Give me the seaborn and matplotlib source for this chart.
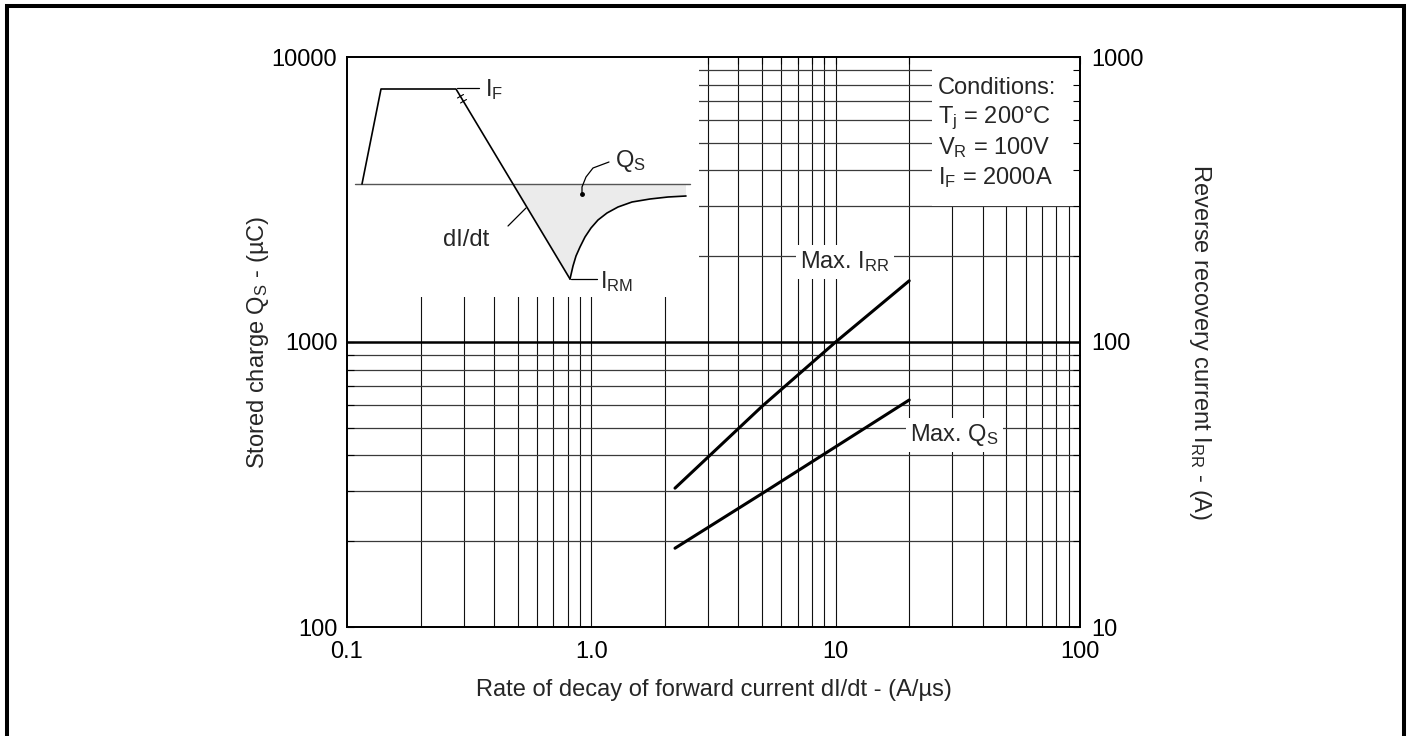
import numpy as np
import pandas as pd
import matplotlib
matplotlib.use("Agg")
import matplotlib.pyplot as plt
from matplotlib.patches import Rectangle, Polygon
import seaborn as sns

# curves
di_dt = [2.2, 5.0, 10.0, 20.0]          # A/us
max_qs = [189, 294, 429, 626]           # uC, left axis
max_irr = [30.7, 59.5, 100.0, 164.0]    # A, right axis

x_ticks = [0.1, 1.0, 10, 100]
x_tick_labels = ["0.1", "1.0", "10", "100"]
qs_ticks = [100, 1000, 10000]
irr_ticks = [10, 100, 1000]

conditions = ["Conditions:", r"T$_j$ = 200°C", r"V$_R$ = 100V", r"I$_F$ = 2000A"]

# recovery waveform sketch (inset drawn in pixel units of the sheet)
sk_base_x = [355, 690]
sk_base_y = [184, 184]
sk_wave_x = [362, 381, 456, 570]
sk_wave_y = [184, 89, 89, 279]
sk_rec_x = [570, 573, 576, 580, 585, 591, 598, 607, 618, 632, 650, 668, 686]
sk_rec_y = [279, 266, 256, 247, 237, 228, 220, 213, 207, 202, 199, 197, 196]
sk_fill_x = [512, 570] + sk_rec_x + [686]
sk_fill_y = [184, 279] + sk_rec_y + [184]

W, H = 1419, 736
DPI = 100
FS = 17

sns.set_theme(style="white")
plt.rcParams["font.family"] = ["Liberation Sans", "DejaVu Sans"]
plt.rcParams["mathtext.default"] = "regular"
plt.rcParams["font.size"] = FS

fig = plt.figure(figsize=(W / DPI, H / DPI), dpi=DPI)
ax = fig.add_axes([347 / W, 1 - 627 / H, 733 / W, 570 / H])
ax.set_xscale("log")
ax.set_yscale("log")
ax.set_xlim(0.1, 100)
ax.set_ylim(100, 10000)

# grid on every decade step
x_grid = [m * 10.0 ** e for e in (-1, 0, 1) for m in range(1, 10)][1:]
y_grid = [m * 10.0 ** e for e in (2, 3) for m in range(1, 10)][1:]
ax.vlines(x_grid, 100, 10000, color="#111111", lw=0.8, zorder=0.3)
for v in y_grid:
    ax.axhline(v, color="black" if v == 1000 else "#3a3a3a",
               lw=1.8 if v == 1000 else 0.9, zorder=0.3)

# white areas behind the sketch and the conditions box
ax.add_patch(Rectangle((0.1, 1440), 2.75 - 0.1, 10000 - 1440, facecolor="white",
                       edgecolor="none", zorder=0.6))
ax.add_patch(Rectangle((24.7, 3000), 100 - 24.7, 10000 - 3000, facecolor="white",
                       edgecolor="none", zorder=0.6))

df = pd.DataFrame({"didt": di_dt, "qs": max_qs, "irr": max_irr})
sns.lineplot(data=df, x="didt", y="qs", ax=ax, color="black", lw=2.2, zorder=3)

ax2 = ax.twinx()
ax2.set_yscale("log")
ax2.set_ylim(10, 1000)
sns.lineplot(data=df, x="didt", y="irr", ax=ax2, color="black", lw=2.2, zorder=3)
ax2.set_xlim(0.1, 100)

for a in (ax, ax2):
    for s in a.spines.values():
        s.set_color("black")
        s.set_linewidth(1.3)
    a.yaxis.set_minor_formatter(matplotlib.ticker.NullFormatter())
    a.xaxis.set_minor_formatter(matplotlib.ticker.NullFormatter())

ax.set_xticks(x_ticks)
ax.set_xticklabels(x_tick_labels)
ax.set_yticks(qs_ticks)
ax.set_yticklabels([str(t) for t in qs_ticks])
ax2.set_yticks(irr_ticks)
ax2.set_yticklabels([str(t) for t in irr_ticks])

ax.tick_params(which="both", direction="in", top=True, right=False,
               length=5, width=0.8, color="black", labelsize=FS, labelcolor="black")
ax.tick_params(axis="x", pad=10)
ax.tick_params(axis="y", pad=7)
ax2.tick_params(which="both", direction="in", length=5, width=0.8, color="black",
                labelsize=FS, labelcolor="black", pad=8)

ax.set_xlabel("Rate of decay of forward current dI/dt - (A/µs)", fontsize=FS, va="center")
ax.xaxis.set_label_coords(0.5, -0.11)
ax.set_ylabel(r"Stored charge Q$_S$ - (µC)", fontsize=FS, va="center")
ax.yaxis.set_label_coords(-0.121, 0.5)
ax2.set_ylabel(r"Reverse recovery current I$_{RR}$ - (A)", fontsize=FS,
               rotation=270, va="center")
ax2.yaxis.set_label_coords(1.164, 0.5)

box = dict(facecolor="white", edgecolor="none", pad=3)
ax.text(10.9, 1910, r"Max. I$_{RR}$", ha="center", va="center", fontsize=FS,
        bbox=box, zorder=4)
ax.text(30.7, 472, r"Max. Q$_S$", ha="center", va="center", fontsize=FS,
        bbox=box, zorder=4)

for i, line in enumerate(conditions):
    ax.text(0.806, 0.946 - i * 0.0527, line, transform=ax.transAxes,
            ha="left", va="center", fontsize=FS, zorder=4)

# inset sketch of the recovery waveform
ins = fig.add_axes([347 / W, 1 - 297 / H, 350 / W, 240 / H])
ins.set_xlim(347, 697)
ins.set_ylim(297, 57)
ins.axis("off")
ins.patch.set_alpha(0)
ins.add_patch(Polygon(list(zip(sk_fill_x, sk_fill_y)), closed=True,
                      facecolor="#ebebeb", edgecolor="none"))
ins.plot(sk_base_x, sk_base_y, color="#555555", lw=1.0)
ins.plot(sk_wave_x, sk_wave_y, color="black", lw=1.2)
ins.plot(sk_rec_x, sk_rec_y, color="black", lw=1.2)
# break mark on the falling edge
ins.plot([457.5, 463.5], [98.0, 94.5], color="black", lw=0.8)
ins.plot([460.5, 466.5], [103.0, 99.5], color="black", lw=0.8)
# leaders and labels
ins.plot([457, 479], [88.5, 88.5], color="black", lw=0.9)
ins.text(485, 90, r"I$_F$", fontsize=FS, ha="left", va="center")
ins.plot([571, 597], [279, 279], color="black", lw=0.9)
ins.text(600, 282, r"I$_{RM}$", fontsize=FS, ha="left", va="center")
ins.plot([609, 593, 586, 582, 582], [162, 168, 177, 187, 194], color="black", lw=0.9)
ins.plot([582], [194], marker="o", markersize=2.5, color="black")
ins.text(615, 161, r"Q$_S$", fontsize=FS, ha="left", va="center")
ins.plot([508, 526], [226, 208], color="black", lw=0.9)
ins.text(466, 240, "dI/dt", fontsize=FS, ha="center", va="center")

# sheet frame
fig.add_artist(Rectangle((7 / W, -0.1), (1404 - 7) / W, 1.1 - 6.5 / H,
                         transform=fig.transFigure, fill=False,
                         edgecolor="black", lw=2.9))

fig.savefig("out.png", dpi=DPI)
